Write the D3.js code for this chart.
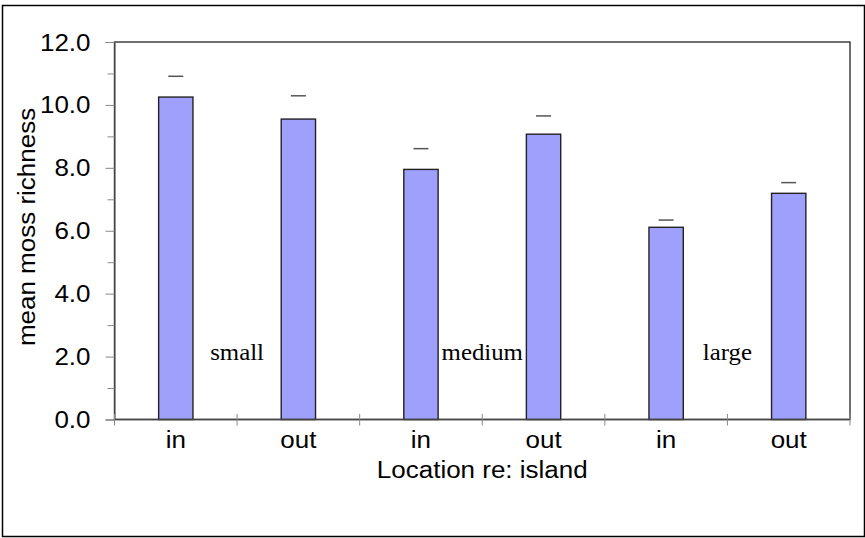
<!DOCTYPE html>
<html>
<head>
<meta charset="utf-8">
<script src="https://cdn.jsdelivr.net/npm/d3@7"></script>
<style>
html,body{margin:0;padding:0;background:#fff;}
svg{display:block;}
</style>
</head>
<body>
<svg id="chart" width="865" height="538"></svg>
<script>
// ---- data ----
const categories = ["in", "out", "in", "out", "in", "out"];
const means = [10.25, 9.55, 7.95, 9.07, 6.11, 7.19];
const upperErr = [10.91, 10.29, 8.61, 9.65, 6.34, 7.53];
const groupLabels = ["small", "medium", "large"];
const majorTicks = [0, 2, 4, 6, 8, 10, 12];
const minorTicks = [1, 3, 5, 7, 9, 11];
const yTitle = "mean moss richness";
const xTitle = "Location re: island";

// ---- layout ----
const svg = d3.select("#chart");
const L = 114.5, R = 850, T = 42, B = 419.5;
const FS = 23;        // sans font size
const SX = 1.13;      // horizontal stretch of sans text
const SSX = 1.08;     // horizontal stretch of serif text
const sans = "'Liberation Sans', Arial, sans-serif";
const serif = "'Liberation Serif', 'Times New Roman', serif";

// outer frame
svg.append("rect").attr("x", 2.5).attr("y", 5.5).attr("width", 862).attr("height", 531)
  .attr("fill", "#fff").attr("stroke", "#000").attr("stroke-width", 1.5);

const idx = categories.map((d, i) => i);
const x = d3.scaleBand().domain(idx).range([L, R]).paddingInner(0.72).paddingOuter(0.36);
const y = d3.scaleLinear().domain([0, 12]).range([B, T]);

// plot frame
svg.append("rect").attr("x", L).attr("y", T).attr("width", R - L).attr("height", B - T)
  .attr("fill", "#fff").attr("stroke", "#333").attr("stroke-width", 1.4);

// bars
svg.append("g").selectAll("rect").data(idx).join("rect")
  .attr("x", i => x(i))
  .attr("y", i => y(means[i]))
  .attr("width", x.bandwidth())
  .attr("height", i => y(0) - y(means[i]))
  .attr("fill", "#9f9ffc")
  .attr("stroke", "#222")
  .attr("stroke-width", 1.4);

// error caps
svg.append("g").selectAll("line").data(idx).join("line")
  .attr("x1", i => x(i) + x.bandwidth() / 2 - 7.5)
  .attr("x2", i => x(i) + x.bandwidth() / 2 + 7.5)
  .attr("y1", i => y(upperErr[i]))
  .attr("y2", i => y(upperErr[i]))
  .attr("stroke", "#555").attr("stroke-width", 1.5);

// y axis
const yAxis = d3.axisLeft(y).tickValues(majorTicks).tickSize(9).tickPadding(15)
  .tickFormat(d3.format(".1f"));
const gy = svg.append("g").attr("transform", `translate(${L},0)`).call(yAxis);
gy.select(".domain").attr("stroke", "#555");
gy.selectAll(".tick line").attr("stroke", "#888");
gy.selectAll(".tick text")
  .attr("font-family", sans).attr("font-size", FS).attr("fill", "#000")
  .attr("x", -24 / SX).attr("dy", "0.35em").attr("transform", `scale(${SX},1)`);
const gyMinor = svg.append("g").attr("transform", `translate(${L},0)`)
  .call(d3.axisLeft(y).tickValues(minorTicks).tickSize(7).tickFormat(""));
gyMinor.select(".domain").remove();
gyMinor.selectAll(".tick line").attr("stroke", "#888");

// x axis
svg.append("line").attr("x1", L).attr("x2", R).attr("y1", B).attr("y2", B)
  .attr("stroke", "#444").attr("stroke-width", 1.4);
const gap = x.step() - x.bandwidth();
const bounds = idx.map(i => x(i) - gap / 2).concat([R]);
svg.append("g").selectAll("line").data(bounds).join("line")
  .attr("x1", d => d).attr("x2", d => d)
  .attr("y1", B - 5.5).attr("y2", B + 6)
  .attr("stroke", "#888").attr("stroke-width", 1);
svg.append("g").selectAll("text").data(idx).join("text")
  .attr("transform", i => `translate(${x(i) + x.bandwidth() / 2},${B + 28}) scale(${SX},1)`)
  .attr("text-anchor", "middle")
  .attr("font-family", sans).attr("font-size", FS).attr("fill", "#000")
  .text(i => categories[i]);

// axis titles
svg.append("text")
  .attr("transform", `translate(${(L + R) / 2},${477.5}) scale(${SX},1)`)
  .attr("text-anchor", "middle")
  .attr("font-family", sans).attr("font-size", FS).attr("fill", "#000")
  .text(xTitle);
svg.append("text")
  .attr("transform", `translate(35,227) rotate(-90) scale(${SX},1)`)
  .attr("text-anchor", "middle")
  .attr("font-family", sans).attr("font-size", FS).attr("fill", "#000")
  .text(yTitle);

// group annotations (between the in/out bars of each group)
svg.append("g").selectAll("text").data(groupLabels).join("text")
  .attr("transform", (d, g) => `translate(${bounds[2 * g + 1]},${y(1.9)}) scale(${SSX},1)`)
  .attr("text-anchor", "middle")
  .attr("font-family", serif).attr("font-size", 23).attr("fill", "#000")
  .text(d => d);
</script>
</body>
</html>
